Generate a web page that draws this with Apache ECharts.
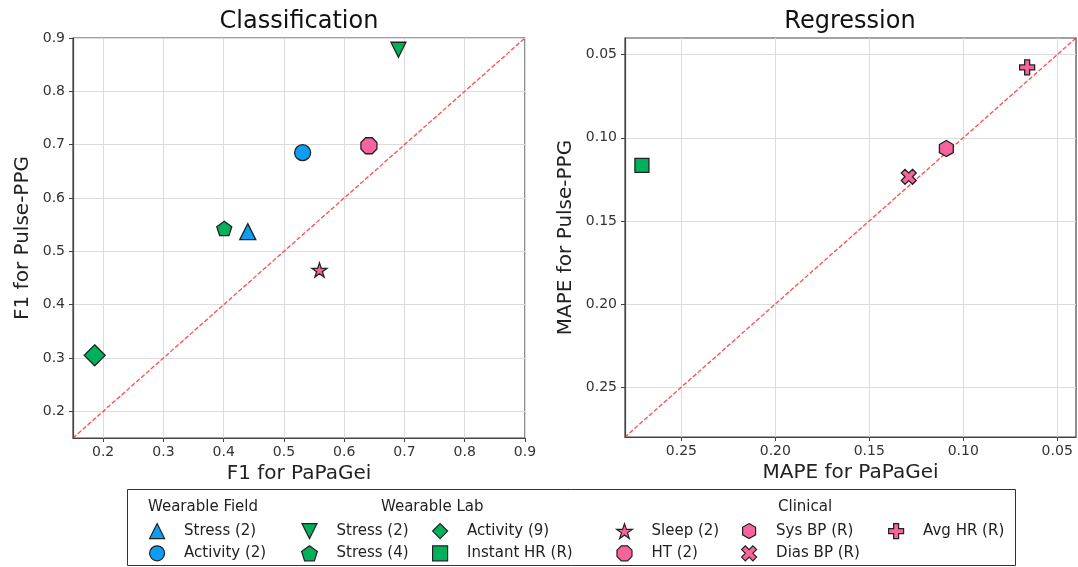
<!DOCTYPE html>
<html>
<head>
<meta charset="utf-8">
<script src="https://cdn.jsdelivr.net/npm/echarts@6/dist/echarts.min.js"></script>
<style>
html,body{margin:0;padding:0;background:#fff;}
#chart{width:1078px;height:567px;}
</style>
</head>
<body>
<div id="chart"></div>
<script>
// ---------------- DATA ----------------
const clsKeys     = ['wf_stress2', 'wf_activity2', 'wl_stress2', 'wl_stress4', 'wl_activity9', 'cl_sleep2', 'cl_ht2'];
const clsPaPaGei  = [0.440, 0.531, 0.690, 0.401, 0.186, 0.559, 0.641];
const clsPulsePPG = [0.537, 0.685, 0.878, 0.543, 0.305, 0.465, 0.698];

const regKeys     = ['wl_instanthr', 'cl_sysbp', 'cl_diasbp', 'cl_avghr'];
const regPaPaGei  = [0.271, 0.109, 0.129, 0.066];
const regPulsePPG = [0.1166, 0.1065, 0.1235, 0.0577];

const legendKeys   = ['wf_stress2', 'wf_activity2', 'wl_stress2', 'wl_stress4', 'wl_activity9', 'wl_instanthr', 'cl_sleep2', 'cl_ht2', 'cl_sysbp', 'cl_diasbp', 'cl_avghr'];
const legendLabels = ['Stress (2)', 'Activity (2)', 'Stress (2)', 'Stress (4)', 'Activity (9)', 'Instant HR (R)', 'Sleep (2)', 'HT (2)', 'Sys BP (R)', 'Dias BP (R)', 'Avg HR (R)'];
const groupTitles  = ['Wearable Field', 'Wearable Lab', 'Clinical'];

const clsTicks = [0.2, 0.3, 0.4, 0.5, 0.6, 0.7, 0.8, 0.9];
const clsRange = [0.15, 0.9];
const regTicks = [0.05, 0.10, 0.15, 0.20, 0.25];
const regRange = [0.04, 0.28];

// ---------------- STYLE ----------------
const BLUE = '#0c9ef2', GREEN = '#00b15c', PINK = '#f5649c';
const P = 'path://';
const shapes = {
  wf_stress2:   {symbol: P + 'M0,-100L100,100L-100,100Z', color: BLUE, size: 16},
  wf_activity2: {symbol: P + 'M-100,0A100,100,0,1,0,100,0A100,100,0,1,0,-100,0Z', color: BLUE, size: 16},
  wl_stress2:   {symbol: P + 'M-100,-100L100,-100L0,100Z', color: GREEN, size: 15},
  wl_stress4:   {symbol: P + 'M0,-100L95.1,-30.9L58.8,80.9L-58.8,80.9L-95.1,-30.9Z', color: GREEN, size: 15},
  wl_activity9: {symbol: P + 'M0,-100L100,0L0,100L-100,0Z', color: GREEN, size: 21},
  wl_instanthr: {symbol: P + 'M-100,-100L100,-100L100,100L-100,100Z', color: GREEN, size: 14},
  cl_sleep2:    {symbol: P + 'M0,-100L22.45,-30.9L95.1,-30.9L36.3,11.8L58.8,80.9L0,38.2L-58.8,80.9L-36.3,11.8L-95.1,-30.9L-22.45,-30.9Z', color: PINK, size: 15},
  cl_ht2:       {symbol: P + 'M92.4,38.3L38.3,92.4L-38.3,92.4L-92.4,38.3L-92.4,-38.3L-38.3,-92.4L38.3,-92.4L92.4,-38.3Z', color: PINK, size: 16},
  cl_sysbp:     {symbol: P + 'M0,-100L86.6,-50L86.6,50L0,100L-86.6,50L-86.6,-50Z', color: PINK, size: 16},
  cl_diasbp:    {symbol: P + 'M141.4,-282.8L282.8,-141.4L141.4,0L282.8,141.4L141.4,282.8L0,141.4L-141.4,282.8L-282.8,141.4L-141.4,0L-282.8,-141.4L-141.4,-282.8L0,-141.4Z', color: PINK, size: 15},
  cl_avghr:     {symbol: P + 'M-1,-3L1,-3L1,-1L3,-1L3,1L1,1L1,3L-1,3L-1,1L-3,1L-3,-1L-1,-1Z', color: PINK, size: 15}
};

const FONT = 'DejaVu Sans';
const AX = '#444';

function scatter(key, x, y, gi) {
  const s = shapes[key];
  return {
    name: key, type: 'scatter', xAxisIndex: gi, yAxisIndex: gi,
    data: [[x, y]], symbol: s.symbol, symbolSize: s.size, symbolKeepAspect: true,
    itemStyle: {color: s.color, borderColor: '#222', borderWidth: 1.3, opacity: 1},
    z: 5, silent: true
  };
}

const series = [];
clsKeys.forEach((k, i) => series.push(scatter(k, clsPaPaGei[i], clsPulsePPG[i], 0)));
regKeys.forEach((k, i) => series.push(scatter(k, regPaPaGei[i], regPulsePPG[i], 1)));
[clsRange, regRange].forEach((r, gi) => series.push({
  type: 'line', xAxisIndex: gi, yAxisIndex: gi, data: [[r[0], r[0]], [r[1], r[1]]],
  symbol: 'none', silent: true, z: 2,
  lineStyle: {color: 'rgba(255,30,30,0.8)', width: 1.3, type: [4.5, 2]}
}));

function axisCommon(gi, range, ticks, name, dec, inverse, gap, margin) {
  return {
    gridIndex: gi, type: 'value', min: range[0], max: range[1], inverse: inverse,
    name: name, nameLocation: 'middle', nameGap: gap,
    nameTextStyle: {fontFamily: FONT, fontSize: 20, color: '#222'},
    axisLine: {show: true, onZero: false, lineStyle: {color: AX, width: 1.2}},
    axisTick: {show: true, length: 4, lineStyle: {color: AX}, customValues: ticks},
    axisLabel: {customValues: ticks, margin: margin, fontFamily: FONT, fontSize: 14, color: '#333',
                formatter: v => v.toFixed(dec)},
    splitLine: {show: true, lineStyle: {color: '#dcdcdc', width: 1}}
  };
}

// legend columns: [left, keys]
const legendCols = [
  [149, legendKeys.slice(0, 2)],
  [301, legendKeys.slice(2, 4)],
  [432, legendKeys.slice(4, 6)],
  [616, legendKeys.slice(6, 8)],
  [741, legendKeys.slice(8, 10)],
  [888, legendKeys.slice(10, 11)]
];
const labelOf = {};
legendKeys.forEach((k, i) => labelOf[k] = legendLabels[i]);

const legends = legendCols.map(c => ({
  left: c[0], top: 523, orient: 'vertical', itemGap: 6,
  itemWidth: 44, itemHeight: 15, selectedMode: false, padding: 0,
  data: c[1], formatter: n => labelOf[n],
  textStyle: {fontFamily: FONT, fontSize: 15, color: '#222'},
  itemStyle: {borderColor: '#222', borderWidth: 1.2}
}));

const titleStyle = {fontFamily: FONT, fontSize: 24, fontWeight: 'normal', color: '#111'};
const gtStyle = t => ({text: t, fontFamily: FONT, fontSize: 15, fill: '#222', textVerticalAlign: 'middle'});

const option = {
  animation: false,
  backgroundColor: '#fff',
  title: [
    {text: 'Classification', left: 294, top: 5, textAlign: 'center', textStyle: titleStyle},
    {text: 'Regression', left: 845, top: 5, textAlign: 'center', textStyle: titleStyle}
  ],
  grid: [
    {left: 73, top: 38, width: 452, height: 400, show: true, borderColor: AX, borderWidth: 1.2, backgroundColor: 'transparent'},
    {left: 625, top: 38, width: 451, height: 399, show: true, borderColor: AX, borderWidth: 1.2, backgroundColor: 'transparent'}
  ],
  xAxis: [
    axisCommon(0, clsRange, clsTicks, 'F1 for PaPaGei', 1, false, 15, 7),
    axisCommon(1, regRange, regTicks, 'MAPE for PaPaGei', 2, true, 15, 7)
  ],
  yAxis: [
    axisCommon(0, clsRange, clsTicks, 'F1 for Pulse-PPG', 1, false, 40, 8),
    axisCommon(1, regRange, regTicks, 'MAPE for Pulse-PPG', 2, true, 49, 8)
  ],
  legend: legends,
  graphic: [
    {type: 'rect', shape: {x: 127.5, y: 489.5, width: 888, height: 76},
     style: {fill: 'none', stroke: '#333', lineWidth: 1}, silent: true},
    {type: 'text', x: 148, y: 507, style: gtStyle(groupTitles[0])},
    {type: 'text', x: 381, y: 507, style: gtStyle(groupTitles[1])},
    {type: 'text', x: 778, y: 507, style: gtStyle(groupTitles[2])}
  ],
  series: series
};

const chart = echarts.init(document.getElementById('chart'), null, {renderer: 'canvas'});
chart.setOption(option);
</script>
</body>
</html>
